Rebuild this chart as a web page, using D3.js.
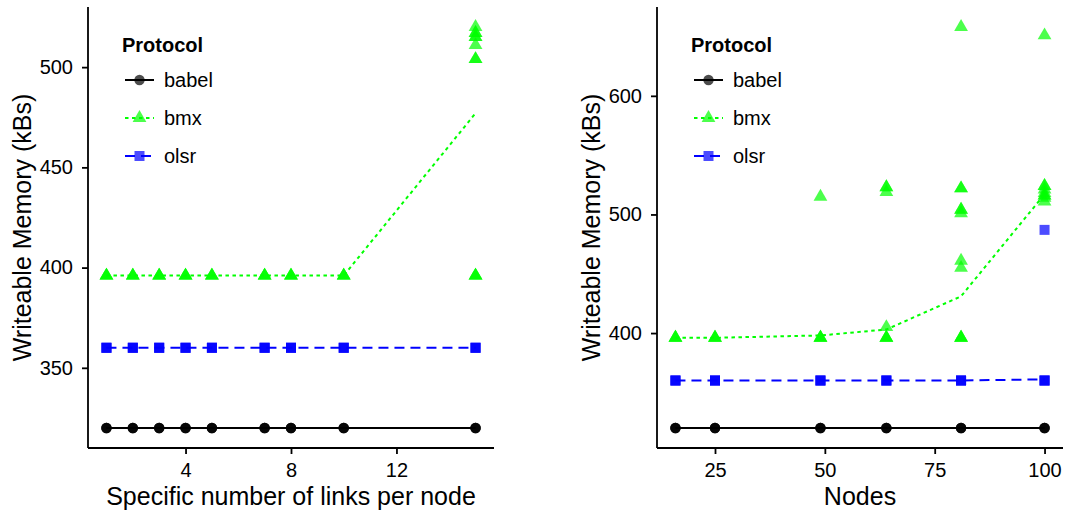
<!DOCTYPE html>
<html>
<head>
<meta charset="utf-8">
<script src="https://cdn.jsdelivr.net/npm/d3@7"></script>
<style>
  body { margin: 0; background: #fff; }
  text { font-family: "Liberation Sans", Arial, sans-serif; }
</style>
</head>
<body>
<svg id="chart" width="1085" height="514"></svg>
<script>
// ---- left panel: links per node ----
var linksX = [1, 2, 3, 4, 5, 7, 8, 10, 15];
var linksBabelMean = [320, 320, 320, 320, 320, 320, 320, 320, 320];
var linksBmxMean   = [396, 396, 396, 396, 396, 396, 396, 396, 477];
var linksOlsrMean  = [360, 360, 360, 360, 360, 360, 360, 360, 360];
// single runs (repeated values = overlapping points)
var linksBabelRuns = [[320,320,320],[320,320,320],[320,320,320],[320,320,320],[320,320,320],[320,320,320],[320,320,320],[320,320,320],[320,320,320]];
var linksOlsrRuns  = [[360,360,360],[360,360,360],[360,360,360],[360,360,360],[360,360,360],[360,360,360],[360,360,360],[360,360,360],[360,360,360]];
var linksBmxRuns   = [[396,396,396],[396,396,396],[396,396,396],[396,396,396],[396,396,396],[396,396,396],[396,396,396],[396,396,396],
                      [520,517,517,515,515,511,504,504,396,396,396]];
var linksYTicks = [350, 400, 450, 500];
var linksXTicks = [4, 8, 12];

// ---- right panel: nodes ----
var nodesX = [16, 25, 49, 64, 81, 100];
var nodesBabelMean = [320, 320, 320, 320, 320, 320];
var nodesBmxMean   = [396, 396, 398, 403, 431, 517];
var nodesOlsrMean  = [360, 360, 360, 360, 360, 361];
var nodesBabelRuns = [[320,320,320],[320,320,320],[320,320,320],[320,320,320],[320,320,320],[320,320,320]];
var nodesOlsrRuns  = [[360,360,360],[360,360,360],[360,360,360],[360,360,360],[360,360,360],[360,360,360,487]];
var nodesBmxRuns   = [[396,396,396],[396,396,396],[396,396,396,515],[396,396,396,405,519,523,523],
                      [396,396,396,455,461,501,504,504,522,522,658],[511,514,516,516,518,521,524,524,651]];
var nodesYTicks = [400, 500, 600];
var nodesXTicks = [25, 50, 75, 100];

var protocols = ["babel", "bmx", "olsr"];
var colors = { babel: "#000000", bmx: "#00ff00", olsr: "#0000ff" };
var dashes = { babel: null, bmx: "3.5,3.5", olsr: "10,6" };
var shapes = { babel: d3.symbolCircle, bmx: d3.symbolTriangle, olsr: d3.symbolSquare };
var sizes  = { babel: 85, bmx: 82, olsr: 100 };

var svg = d3.select("#chart");

function panel(opt) {
    var g = svg.append("g");
    var xs = opt.x, top = 7, bottom = 448;

    // ggplot style 5% expansion
    var xe = d3.extent(xs), ye = [d3.min(opt.babelRuns, function(r){ return d3.min(r); }),
                                  d3.max(opt.bmxRuns, function(r){ return d3.max(r); })];
    var xpad = (xe[1] - xe[0]) * 0.05, ypad = (ye[1] - ye[0]) * 0.05;
    var x = d3.scaleLinear().domain([xe[0] - xpad, xe[1] + xpad]).range([opt.left, opt.right]);
    var y = d3.scaleLinear().domain([ye[0] - ypad, ye[1] + ypad]).range([bottom, top]);

    var runs = { babel: opt.babelRuns, bmx: opt.bmxRuns, olsr: opt.olsrRuns };
    var means = { babel: opt.babelMean, bmx: opt.bmxMean, olsr: opt.olsrMean };

    // points
    protocols.forEach(function(p) {
        var pts = [];
        runs[p].forEach(function(r, i) { r.forEach(function(v) { pts.push([xs[i], v]); }); });
        g.selectAll(".pt-" + p).data(pts).enter().append("path")
            .attr("class", "pt-" + p)
            .attr("d", d3.symbol().type(shapes[p]).size(sizes[p]))
            .attr("transform", function(d) { return "translate(" + x(d[0]) + "," + y(d[1]) + ")"; })
            .attr("fill", colors[p])
            .attr("fill-opacity", 0.7);
    });

    // mean lines
    protocols.forEach(function(p) {
        var line = d3.line().x(function(d, i) { return x(xs[i]); }).y(function(d) { return y(d); });
        g.append("path").datum(means[p])
            .attr("d", line)
            .attr("fill", "none")
            .attr("stroke", colors[p])
            .attr("stroke-width", 2)
            .attr("stroke-dasharray", dashes[p]);
    });

    // axes
    var ya = g.append("g").attr("transform", "translate(" + opt.left + ",0)")
        .call(d3.axisLeft(y).tickValues(opt.yTicks).tickSize(6).tickSizeOuter(0).tickPadding(9));
    var xa = g.append("g").attr("transform", "translate(0," + bottom + ")")
        .call(d3.axisBottom(x).tickValues(opt.xTicks).tickSize(6).tickSizeOuter(0).tickPadding(9));
    [ya, xa].forEach(function(a) {
        a.select(".domain").attr("stroke", "#000").attr("stroke-width", 1.8);
        a.selectAll(".tick line").attr("stroke", "#000").attr("stroke-width", 1.8);
        a.selectAll(".tick text").attr("fill", "#000").style("font-size", "20px")
            .style("font-family", "'Liberation Sans', Arial, sans-serif");
    });
    // close the corner
    ya.select(".domain").attr("d", "M0," + top + "V" + bottom);
    xa.select(".domain").attr("d", "M" + opt.left + ",0H" + opt.right);

    // titles
    g.append("text")
        .attr("transform", "translate(" + (opt.left - 57) + "," + ((top + bottom) / 2) + ") rotate(-90)")
        .attr("text-anchor", "middle")
        .style("font-size", "25px")
        .text("Writeable Memory (kBs)");
    g.append("text")
        .attr("x", (opt.left + opt.right) / 2).attr("y", 505)
        .attr("text-anchor", "middle")
        .style("font-size", "25px")
        .text(opt.xTitle);

    // legend
    var lg = g.append("g").attr("transform", "translate(" + (opt.left + 34) + ",0)");
    lg.append("text").attr("x", 0).attr("y", 52)
        .style("font-size", "20px").style("font-weight", "bold")
        .text("Protocol");
    protocols.forEach(function(p, i) {
        var yy = 80 + i * 38;
        lg.append("line")
            .attr("x1", 3).attr("x2", 32).attr("y1", yy).attr("y2", yy)
            .attr("stroke", colors[p]).attr("stroke-width", 2)
            .attr("stroke-dasharray", dashes[p]);
        lg.append("path")
            .attr("d", d3.symbol().type(shapes[p]).size(sizes[p]))
            .attr("transform", "translate(17.5," + yy + ")")
            .attr("fill", colors[p]).attr("fill-opacity", 0.7);
        lg.append("text").attr("x", 42).attr("y", yy).attr("dy", "0.35em")
            .style("font-size", "20px")
            .text(p);
    });
}

panel({ left: 88, right: 494, x: linksX,
        babelMean: linksBabelMean, bmxMean: linksBmxMean, olsrMean: linksOlsrMean,
        babelRuns: linksBabelRuns, bmxRuns: linksBmxRuns, olsrRuns: linksOlsrRuns,
        yTicks: linksYTicks, xTicks: linksXTicks, xTitle: "Specific number of links per node" });

panel({ left: 657, right: 1063, x: nodesX,
        babelMean: nodesBabelMean, bmxMean: nodesBmxMean, olsrMean: nodesOlsrMean,
        babelRuns: nodesBabelRuns, bmxRuns: nodesBmxRuns, olsrRuns: nodesOlsrRuns,
        yTicks: nodesYTicks, xTicks: nodesXTicks, xTitle: "Nodes" });
</script>
</body>
</html>
